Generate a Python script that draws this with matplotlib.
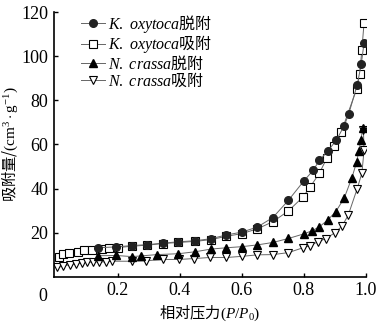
import matplotlib
matplotlib.use("Agg")
import matplotlib.pyplot as plt
from matplotlib.font_manager import FontProperties

plt.rcParams['font.family'] = ['Liberation Serif', 'Noto Sans CJK SC']
plt.rcParams['mathtext.fontset'] = 'custom'
plt.rcParams['mathtext.rm'] = 'Liberation Serif'
plt.rcParams['mathtext.it'] = 'Liberation Serif:italic'

# K. oxytoca desorption
ko_des_p = [0.135, 0.195, 0.245, 0.295, 0.345, 0.395, 0.45, 0.50, 0.55, 0.60, 0.65,
            0.70, 0.75, 0.80, 0.83, 0.85, 0.877, 0.905, 0.93, 0.945, 0.972, 0.985, 0.994]
ko_des_v = [13.2, 13.6, 14.2, 14.6, 15.3, 15.9, 16.4, 17.3, 19.0, 20.3, 22.6,
            26.9, 34.7, 43.5, 48.3, 52.8, 57.0, 62.0, 68.5, 74.0, 87.0, 96.4, 106.0]

# K. oxytoca adsorption
ko_ads_p = [0.01, 0.024, 0.043, 0.07, 0.09, 0.115, 0.15, 0.17, 0.20, 0.245, 0.295,
            0.345, 0.395, 0.45, 0.50, 0.55, 0.60, 0.65, 0.70, 0.75, 0.797, 0.82,
            0.85, 0.874, 0.897, 0.92, 0.97, 0.98, 0.987, 0.994]
ko_ads_v = [8.8, 10.2, 11.0, 11.5, 12.0, 12.3, 12.8, 12.9, 13.3, 13.9, 14.4,
            15.1, 15.6, 16.1, 16.9, 18.4, 19.6, 21.8, 25.0, 29.9, 36.2, 40.7,
            47.0, 53.8, 59.5, 65.5, 85.0, 92.0, 103.0, 115.0]

# N. crassa desorption
nc_des_p = [0.135, 0.195, 0.245, 0.275, 0.325, 0.395, 0.45, 0.50, 0.55, 0.60, 0.65,
            0.70, 0.75, 0.80, 0.826, 0.85, 0.877, 0.903, 0.93, 0.955, 0.97, 0.977,
            0.984, 0.99]
nc_des_v = [9.6, 9.7, 9.2, 9.5, 10.1, 10.5, 11.4, 12.6, 13.2, 13.7, 14.5,
            15.6, 17.4, 19.5, 20.9, 22.7, 25.8, 29.6, 35.7, 45.0, 52.0, 57.0,
            62.2, 67.6]

# N. crassa adsorption
nc_ads_p = [0.005, 0.024, 0.045, 0.065, 0.083, 0.10, 0.12, 0.14, 0.16, 0.18, 0.245,
            0.29, 0.345, 0.397, 0.445, 0.497, 0.55, 0.60, 0.65, 0.70, 0.75, 0.797,
            0.82, 0.845, 0.87, 0.90, 0.923, 0.943, 0.972, 0.987, 0.994, 0.992]
nc_ads_v = [4.3, 4.9, 5.6, 5.9, 6.4, 6.6, 6.8, 6.8, 6.8, 7.1, 7.1,
            7.3, 7.9, 7.9, 8.3, 8.8, 8.8, 9.3, 10.0, 10.1, 11.0, 13.2,
            14.2, 15.9, 17.3, 20.0, 23.0, 28.0, 40.0, 47.0, 57.3, 66.5]

labels = [r'$\mathit{K.\ oxytoca}$脱附', r'$\mathit{K.\ oxytoca}$吸附',
          r'$\mathit{N.\ crassa}$脱附', r'$\mathit{N.\ crassa}$吸附']

fig = plt.figure(figsize=(3.78, 3.25), dpi=100)
ax = fig.add_axes([0.143, 0.148, 0.825, 0.815])

lc = '#666666'
ms = 5.5
h2, = ax.plot(ko_ads_p, ko_ads_v, '-', color=lc, lw=0.7, marker='s', ms=ms,
              mfc='white', mec='black', mew=0.8, zorder=2)
h1, = ax.plot(ko_des_p, ko_des_v, '-', color=lc, lw=0.7, marker='o', ms=ms,
              mfc='#222222', mec='#222222', zorder=3)
h4, = ax.plot(nc_ads_p, nc_ads_v, '-', color=lc, lw=0.7, marker='v', ms=ms + 0.5,
              mfc='white', mec='black', mew=0.8, zorder=2)
h3, = ax.plot(nc_des_p, nc_des_v, '-', color=lc, lw=0.7, marker='^', ms=ms + 0.5,
              mfc='black', mec='black', zorder=3)

ax.set_xlim(-0.006, 1.0)
ax.set_ylim(0, 120)
ax.set_xticks([0.2, 0.4, 0.6, 0.8, 1.0])
ax.set_xticklabels(['0.2', '0.4', '0.6', '0.8', '1.0'])
ax.set_yticks([20, 40, 60, 80, 100, 120])
ax.tick_params(direction='in', length=3, width=1, labelsize=13, pad=4)
ax.text(-0.035, -0.075, '0', transform=ax.transAxes, ha='center', va='center',
        fontsize=13)

for s in ['top', 'right']:
    ax.spines[s].set_visible(False)
for s in ['left', 'bottom']:
    ax.spines[s].set_linewidth(1.2)

cjk = FontProperties(family='Noto Sans CJK SC', size=11)
ax.set_xlabel(r'相对压力$(P/P_0)$', fontproperties=cjk, labelpad=3)
ax.set_ylabel(r'吸附量/$\mathrm{(cm^{3}\cdot g^{-1})}$', fontproperties=cjk, labelpad=1)

leg_font = FontProperties(family='Noto Sans CJK SC', size=11.5)
ax.legend([h1, h2, h3, h4], labels, prop=leg_font, loc='upper left',
          bbox_to_anchor=(0.05, 1.04), frameon=False, handlelength=1.5,
          handletextpad=0.2, labelspacing=-0.08, borderpad=0.2)

fig.savefig('out.png', dpi=100)
